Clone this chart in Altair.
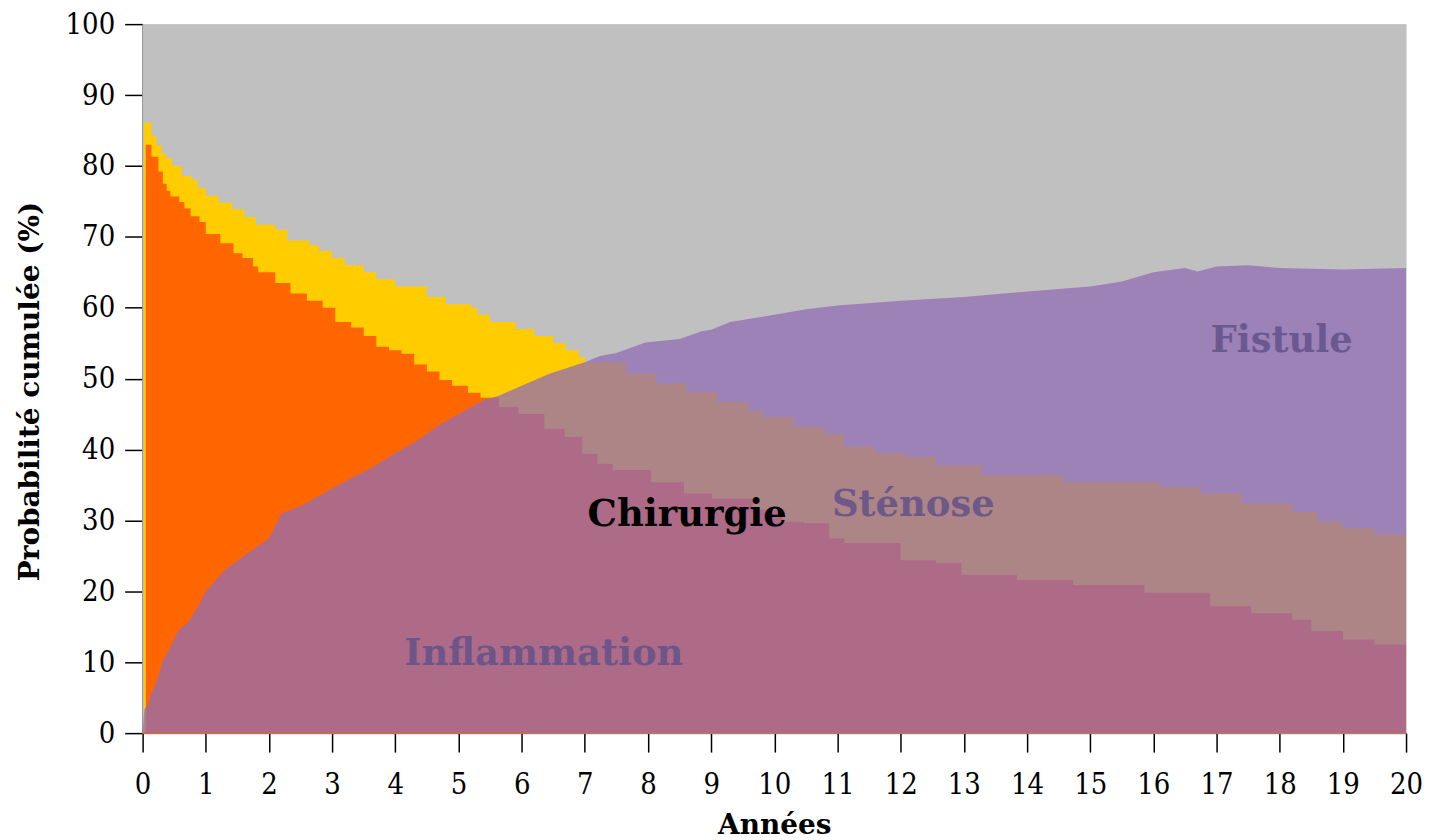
import altair as alt
import pandas as pd

# ---- data ----
years_gray = [0.0, 20.0]
top_gray = [100.0, 100.0]

# Sténose (yellow) cumulative top boundary, step function
sten_x = [0.02, 0.14, 0.22, 0.30, 0.37, 0.47, 0.62, 0.77, 0.87, 1.0, 1.2, 1.42, 1.61, 1.79,
          2.1, 2.29, 2.64, 2.79, 3.0, 3.2, 3.5, 3.7, 4.0, 4.5, 4.8, 5.2, 5.3, 5.5, 5.9, 6.2,
          6.5, 6.7, 6.9, 7.0, 7.65, 8.13, 8.61, 9.1, 9.58, 9.82, 10.3, 10.79, 11.1, 11.6,
          12.08, 12.56, 13.28, 14.57, 16.1, 16.75, 17.4, 18.2, 18.6, 19.0, 19.5, 20.0]
sten_y = [86.1, 84.2, 82.9, 81.8, 81.1, 80.0, 78.6, 78.1, 76.9, 75.8, 74.8, 73.9, 72.8, 71.7,
          71.0, 69.5, 68.8, 68.0, 67.0, 66.0, 65.0, 64.0, 63.0, 61.5, 60.5, 60.0, 59.0, 58.0, 57.0, 56.0,
          55.0, 54.0, 53.0, 52.3, 50.7, 49.3, 48.1, 46.7, 45.5, 44.6, 43.2, 42.2, 40.4, 39.5,
          38.95, 37.8, 36.4, 35.4, 34.7, 33.8, 32.4, 31.2, 29.8, 28.9, 28.0, 28.0]

# Inflammation (orange) cumulative top boundary, step function
infl_x = [0.05, 0.14, 0.25, 0.32, 0.38, 0.44, 0.58, 0.66, 0.76, 0.9, 1.0, 1.23, 1.44, 1.58, 1.75,
          1.83, 2.1, 2.34, 2.6, 2.85, 3.05, 3.3, 3.5, 3.7, 3.9, 4.1, 4.3, 4.5, 4.7, 4.9, 5.15,
          5.35, 5.64, 5.95, 6.36, 6.68, 6.96, 7.2, 7.44, 8.05, 8.57, 9.01, 9.66, 10.14, 10.47,
          10.87, 11.11, 12.0, 12.56, 12.96, 13.84, 14.73, 15.86, 16.9, 17.55, 18.2, 18.5, 19.0,
          19.5, 20.0]
infl_y = [83.0, 81.3, 79.2, 77.5, 76.5, 75.7, 74.9, 74.0, 72.9, 72.1, 70.4, 69.1, 67.7, 67.0, 65.8,
          65.0, 63.5, 62.0, 61.0, 60.0, 58.0, 57.2, 56.0, 54.5, 54.0, 53.5, 52.0, 51.0, 49.8, 49.0, 48.0,
          47.3, 46.0, 45.0, 42.9, 41.8, 39.4, 38.0, 37.1, 35.4, 33.8, 33.1, 31.5, 29.8, 29.6,
          27.5, 26.8, 24.4, 24.0, 22.3, 21.6, 20.9, 19.8, 17.9, 16.9, 16.0, 14.4, 13.2,
          12.5, 12.5]

# Chirurgie (purple overlay) cumulative curve
surg_x = [0.0, 0.02, 0.03, 0.08, 0.14, 0.19, 0.27, 0.32, 0.43, 0.56, 0.74, 0.9, 1.0, 1.3, 1.6,
          2.0, 2.2, 2.5, 3.0, 3.3, 3.6, 4.0, 4.3, 4.7, 5.0, 5.4, 5.64, 6.0, 6.44, 7.0, 7.24, 7.5,
          7.96, 8.5, 8.85, 9.0, 9.3, 10.0, 10.5, 11.0, 12.0, 13.0, 14.0, 15.0, 15.5, 16.0, 16.5,
          16.7, 17.0, 17.5, 18.0, 19.0, 20.0]
surg_y = [0.0, 2.5, 3.4, 4.0, 5.7, 6.6, 8.7, 10.2, 12.0, 14.4, 15.8, 18.3, 20.0, 23.0, 25.0,
          27.5, 31.0, 32.0, 34.5, 36.0, 37.3, 39.5, 41.0, 43.5, 45.0, 47.0, 47.6, 49.0, 50.7, 52.3, 53.2, 53.6,
          55.1, 55.6, 56.7, 56.9, 58.0, 59.0, 59.8, 60.3, 61.0, 61.5, 62.3, 63.0, 63.7, 65.0, 65.6,
          65.1, 65.8, 66.0, 65.6, 65.4, 65.6]

# thin orange baseline segment
base_x = [0.0]
base_x2 = [6.1]

# annotation labels
lab_text = ["Inflammation", "Sténose", "Fistule"]
lab_x = [6.35, 12.2, 18.03]
lab_y = [11.1, 32.2, 55.3]
chir_text = ["Chirurgie"]
chir_x = [8.62]
chir_y = [30.8]

x_ticks = list(range(0, 21))
y_ticks = list(range(0, 101, 10))

FONT = "DejaVu Serif Condensed, DejaVu Serif"

xs = alt.Scale(domain=[0, 20], nice=False)
ys = alt.Scale(domain=[0, 100], nice=False)

xax = alt.Axis(values=x_ticks, format="d", title="Années", grid=False, tickSize=19, tickWidth=1.5,
               tickColor="black", labelPadding=19, domain=True, domainColor="#555555",
               labelFlush=False, labelOverlap=False,
               labelFontSize=29, labelFont=FONT, labelColor="black",
               titleFont="DejaVu Serif", titleFontSize=28, titleFontWeight="bold",
               titleColor="black", titlePadding=12)
yax = alt.Axis(values=y_ticks, format="d", title="Probabilité cumulée (%)", grid=False, tickSize=18,
               tickWidth=1.5, tickColor="black", labelPadding=10, domainColor="#707070",
               labelFlush=False, labelOverlap=False,
               domainWidth=2, labelFontSize=29, labelFont=FONT, labelColor="black",
               titleFont="DejaVu Serif", titleFontSize=28, titleFontWeight="bold",
               titleColor="black", titlePadding=21, titleY=368)

gray_df = pd.DataFrame({"x": years_gray, "y": top_gray})
sten_df = pd.DataFrame({"x": sten_x, "y": sten_y})
infl_df = pd.DataFrame({"x": infl_x, "y": infl_y})
surg_df = pd.DataFrame({"x": surg_x, "y": surg_y})
base_df = pd.DataFrame({"x": base_x, "x2": base_x2, "y": [0.0]})
lab_df = pd.DataFrame({"t": lab_text, "x": lab_x, "y": lab_y})
chir_df = pd.DataFrame({"t": chir_text, "x": chir_x, "y": chir_y})

gray = alt.Chart(gray_df).mark_area(color="#C0C0C0", opacity=1).encode(
    x=alt.X("x:Q", scale=xs, axis=xax), y=alt.Y("y:Q", scale=ys, axis=yax), y2=alt.datum(0))

sten = alt.Chart(sten_df).mark_area(color="#FFCC00", opacity=1, interpolate="step-after").encode(
    x=alt.X("x:Q", scale=xs), y=alt.Y("y:Q", scale=ys), y2=alt.datum(0))

infl = alt.Chart(infl_df).mark_area(color="#FF6600", opacity=1, interpolate="step-after").encode(
    x=alt.X("x:Q", scale=xs), y=alt.Y("y:Q", scale=ys), y2=alt.datum(0))

base = alt.Chart(base_df).mark_rule(color="#FF6600", strokeWidth=2).encode(
    x=alt.X("x:Q", scale=xs), x2="x2:Q", y=alt.Y("y:Q", scale=ys))

surg = alt.Chart(surg_df).mark_area(color="#916EB4", opacity=0.75).encode(
    x=alt.X("x:Q", scale=xs), y=alt.Y("y:Q", scale=ys), y2=alt.datum(0))

labels = alt.Chart(lab_df).mark_text(font="DejaVu Serif", fontSize=37, fontWeight="bold",
                                     color="#62528a", opacity=0.85).encode(
    x=alt.X("x:Q", scale=xs), y=alt.Y("y:Q", scale=ys), text="t:N")

chir = alt.Chart(chir_df).mark_text(font="DejaVu Serif", fontSize=37, fontWeight="bold",
                                    color="black").encode(
    x=alt.X("x:Q", scale=xs), y=alt.Y("y:Q", scale=ys), text="t:N")

chart = alt.layer(gray, sten, infl, base, surg, labels, chir).properties(
    width=1267, height=711,
    padding={"left": 8, "top": 1, "right": 0, "bottom": 0},
).configure_view(strokeWidth=0).configure(background="white")

chart.save("out.html", embed_options={"renderer": "svg", "actions": False})
